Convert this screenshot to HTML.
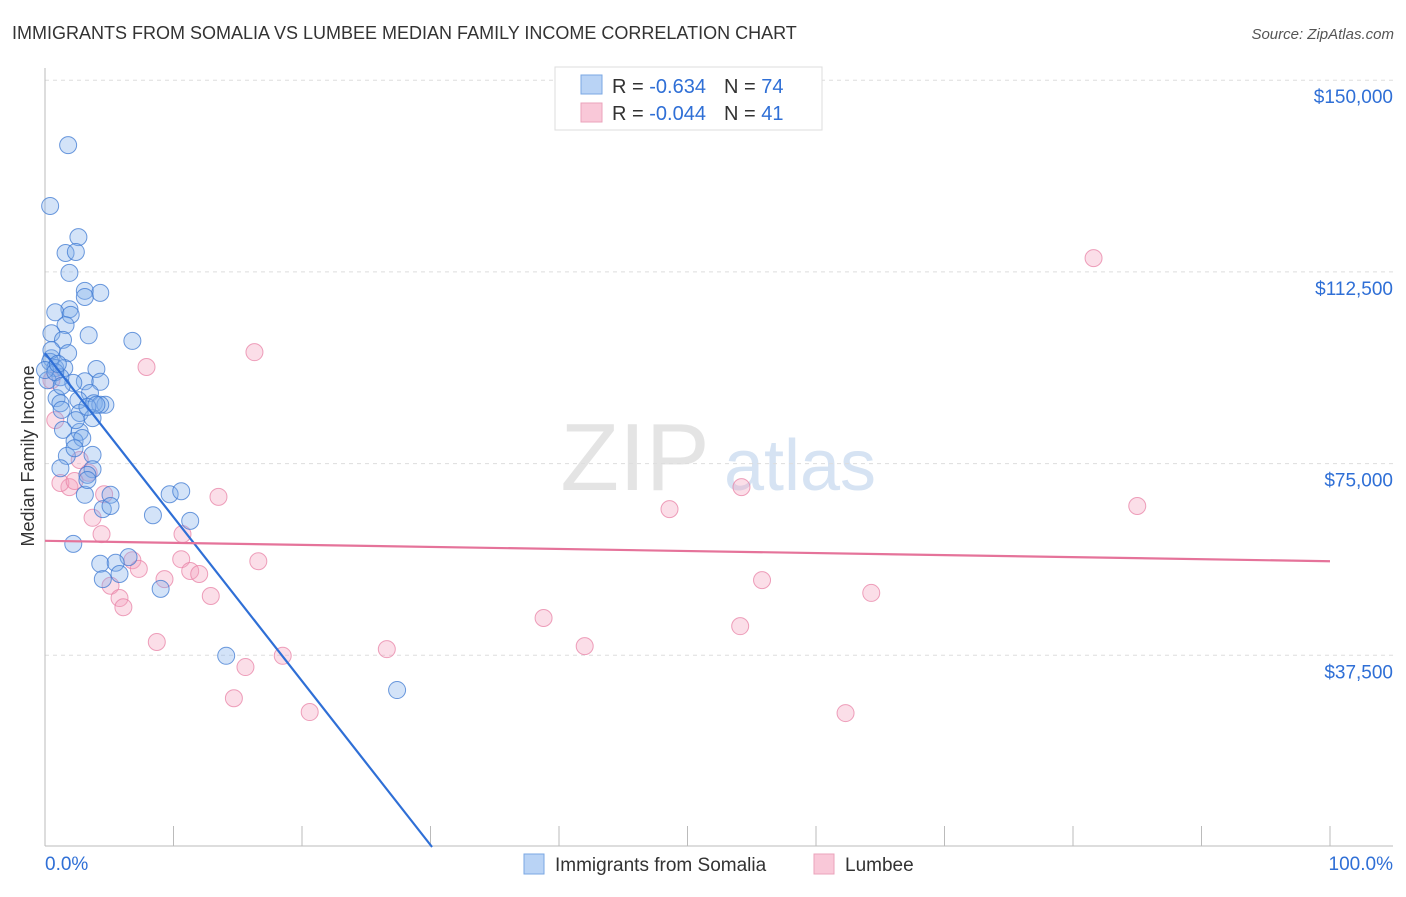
<!DOCTYPE html>
<html><head><meta charset="utf-8"><style>
body{margin:0;background:#fff;font-family:"Liberation Sans",sans-serif;}
svg text{font-family:"Liberation Sans",sans-serif;}
</style></head><body>
<svg id="c" width="1406" height="892" xmlns="http://www.w3.org/2000/svg">
<text x="12" y="39" font-size="18" fill="#333">IMMIGRANTS FROM SOMALIA VS LUMBEE MEDIAN FAMILY INCOME CORRELATION CHART</text>
<text x="1394" y="39" font-size="15" fill="#555" font-style="italic" text-anchor="end">Source: ZipAtlas.com</text>
<text x="34" y="456" font-size="18" fill="#333" text-anchor="middle" transform="rotate(-90 34 456)">Median Family Income</text>
<g><text x="635" y="490" font-size="96" fill="#e4e4e4" font-family="Liberation Serif" text-anchor="middle">ZIP</text><text x="800" y="490" font-size="72" fill="#d6e3f3" text-anchor="middle">atlas</text></g>
<g id="grid"></g><g id="axes"></g><g id="pts"></g><g id="lines"></g>
<g>
<rect x="555" y="67" width="267" height="63" fill="#fff" stroke="#ddd"/>
<rect x="581" y="75" width="21" height="19" fill="#b9d3f5" stroke="#7aa7e3"/>
<rect x="581" y="103" width="21" height="19" fill="#f9c8d8" stroke="#eba3bb"/>
<text x="612" y="93" font-size="20" fill="#333">R = <tspan fill="#2f6fd6"> -0.634</tspan><tspan dx="18">N = </tspan><tspan fill="#2f6fd6">74</tspan></text>
<text x="612" y="120" font-size="20" fill="#333">R = <tspan fill="#2f6fd6">-0.044</tspan><tspan dx="18">N = </tspan><tspan fill="#2f6fd6"> 41</tspan></text>
</g>
<g>
<rect x="524" y="854" width="20" height="20" fill="#b9d3f5" stroke="#7aa7e3"/>
<text x="555" y="871" font-size="19" fill="#333">Immigrants from Somalia</text>
<rect x="814" y="854" width="20" height="20" fill="#f9c8d8" stroke="#eba3bb"/>
<text x="845" y="871" font-size="19" fill="#333">Lumbee</text>
</g>
</svg>
<script>
const yTicks=[37500,75000,112500,150000];
const yTickLabels=["$37,500","$75,000","$112,500","$150,000"];
const xTickVals=[0,10,20,30,40,50,60,70,80,90,100];
const somaliaX=[1.8,0.4,2.6,1.6,2.4,1.9,3.1,4.3,3.1,1.9,0.8,2.0,1.6,0.5,3.4,1.4,6.8,1.8,0.5,0.4,4.0,0.8,1.5,3.1,4.3,2.2,1.2,3.5,0.9,1.2,2.6,3.8,4.7,4.3,1.3,2.7,3.7,1.4,2.7,2.3,2.9,1.7,3.7,1.2,3.7,3.3,3.1,5.1,9.7,10.6,8.4,4.5,11.3,2.2,6.5,4.3,5.5,5.8,4.5,9.0,14.1,27.4,0.2,0.0,0.8,1.3,3.3,4.0,2.3,5.1,0.5,1.0,2.4,3.3];
const somaliaY=[137.3,125.4,119.3,116.2,116.4,112.3,108.8,108.4,107.6,105.2,104.6,104.1,102.1,100.5,100.1,99.2,99.0,96.6,95.6,94.9,93.5,93.7,93.7,91.1,91.0,90.8,91.9,88.8,87.8,86.8,87.4,86.8,86.5,86.5,85.5,84.9,83.9,81.6,81.2,79.4,80.0,76.5,76.7,74.1,73.9,72.8,68.9,68.9,69.0,69.6,64.9,66.1,63.8,59.3,56.7,55.4,55.6,53.4,52.4,50.5,37.4,30.7,91.3,93.3,92.9,90.2,86.1,86.5,78.0,66.7,97.2,94.5,83.5,71.8];
const lumbeeX=[81.6,16.3,7.9,0.5,0.8,2.7,3.4,1.9,1.2,2.3,4.6,13.5,54.2,48.6,85.0,3.7,4.4,10.7,16.6,10.6,6.8,7.3,11.3,12.0,9.3,5.1,5.8,12.9,64.3,55.8,6.1,38.8,54.1,42.0,8.7,26.6,18.5,15.6,14.7,20.6,62.3];
const lumbeeY=[115.2,96.8,93.9,91.3,83.5,75.7,73.2,70.4,71.2,71.6,69.0,68.5,70.4,66.1,66.7,64.4,61.2,61.2,55.9,56.3,56.1,54.4,54.0,53.4,52.4,51.1,48.7,49.1,49.7,52.2,46.9,44.8,43.2,39.3,40.1,38.7,37.4,35.2,29.1,26.4,26.2];
const somaliaTrend=[96.6,-3.207]; // intercept (k$), slope per %
const lumbeeTrend=[59.9,-0.04];
const NS="http://www.w3.org/2000/svg";
const X=v=>45+v*12.85;
const Y=v=>847-v*1000/37500*191.7/1000*1000/1000*1; // v in dollars
const Yk=k=>Y(k*1000);
function mk(t,a,p){const e=document.createElementNS(NS,t);for(const k in a)e.setAttribute(k,a[k]);p.appendChild(e);return e;}
const grid=document.getElementById('grid'),axes=document.getElementById('axes');
yTicks.forEach((t,i)=>{
 const g=mk('line',{x1:45,x2:1393,y1:Y(t),y2:Y(t),stroke:'#ddd','stroke-dasharray':'4 4'},grid);
 
 
 const tx=mk('text',{x:1393,y:Y(t)+23,'font-size':19,fill:'#2f6fd6','text-anchor':'end'},axes);
 tx.textContent=yTickLabels[i];
 
 
});
const ya=mk('line',{x1:45,x2:45,y1:68,y2:846,stroke:'#bbb'},axes);


const xa=mk('line',{x1:45,x2:1393,y1:846,y2:846,stroke:'#bbb'},axes);


xTickVals.forEach(v=>{
 const l=mk('line',{x1:X(v),x2:X(v),y1:826,y2:846,stroke:'#bbb'},axes);
 
 
});
const x0=mk('text',{x:45,y:870,'font-size':19,fill:'#2f6fd6'},axes);x0.textContent='0.0%';


const x1=mk('text',{x:1393,y:870,'font-size':19,fill:'#2f6fd6','text-anchor':'end'},axes);x1.textContent='100.0%';


const pts=document.getElementById('pts');
lumbeeX.forEach((x,i)=>{
 const c=mk('circle',{cx:X(x),cy:Yk(lumbeeY[i]),r:8.5,fill:'rgba(244,160,188,0.35)',stroke:'rgba(232,130,165,0.75)','stroke-width':1},pts);
 
 
});
somaliaX.forEach((x,i)=>{
 const c=mk('circle',{cx:X(x),cy:Yk(somaliaY[i]),r:8.5,fill:'rgba(130,175,235,0.35)',stroke:'rgba(60,120,210,0.75)','stroke-width':1},pts);
 
 
});
const lines=document.getElementById('lines');
const xEnd=-somaliaTrend[0]/somaliaTrend[1];
const bl=mk('line',{x1:X(0),y1:Yk(somaliaTrend[0]),x2:X(xEnd),y2:Yk(0),stroke:'#2f6fd6','stroke-width':2.2},lines);


const pl=mk('line',{x1:X(0),y1:Yk(lumbeeTrend[0]),x2:X(100),y2:Yk(lumbeeTrend[0]+lumbeeTrend[1]*100),stroke:'#e5739a','stroke-width':2.2},lines);


</script>
</body></html>
